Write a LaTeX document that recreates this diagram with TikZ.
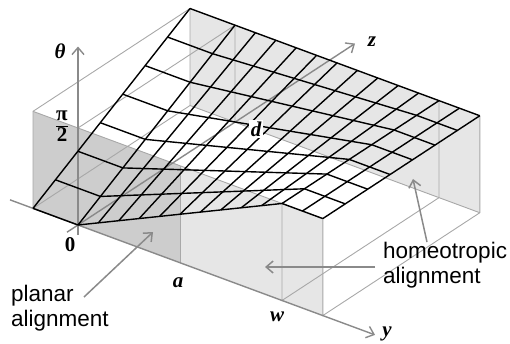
\documentclass[tikz,border=0pt]{standalone}
\usepackage{fontspec}
\setmainfont{Liberation Serif}
\newfontfamily\lbsans{Liberation Sans}
\usetikzlibrary{arrows.meta}
\definecolor{edgegray}{HTML}{A8A8A8}
\definecolor{axisgray}{HTML}{8A8A8A}
\definecolor{facedark}{HTML}{CDCDCD}
\definecolor{facelight}{HTML}{E6E6E6}
\begin{document}
\begin{tikzpicture}[x=1pt,y=-1pt,
  declare function={th(\u,\v)=1-(1-\v/157)*(1-min(max(\u/204,0),1));},
  gridline/.style={line width=1.4pt, black, line join=round},
  boxedge/.style={line width=0.9pt, edgegray},
  axisline/.style={line width=1.4pt, axisgray, -{Straight Barb[length=7pt,width=12pt]}},
  notearrow/.style={line width=1.5pt, axisgray, -{Straight Barb[length=7pt,width=12pt]}},
  lab/.style={font=\fontsize{21}{25}\selectfont\bfseries\itshape, inner sep=0pt},
  note/.style={font=\lbsans\fontsize{22.5}{25}\selectfont, align=left, inner sep=0pt, anchor=north west},
]
\useasboundingbox (0,0) rectangle (510,344);
\begin{scope}[shift={(78,225)}, x={(1pt,-0.37pt)}, y={(1pt,0.655pt)}, z={(0pt,97pt)}]
  % faces
  \fill[facelight] (-45,157,0) -- (244.8,157,0) -- (244.8,157,1) -- (-45,157,1) -- cycle;
  \fill[facedark] (-45,0,0) -- (102,0,0) -- (102,0,1) -- (-45,0,1) -- cycle;
  \fill[facelight] (102,0,0) -- (244.8,0,0) -- (244.8,0,1) -- (102,0,1) -- cycle;
  % box edges
  \draw[boxedge] (-45,0,0) -- (-45,0,1) -- (-45,157,1) -- (-45,157,0) -- cycle;
  \draw[boxedge] (-45,0,1) -- (244.8,0,1);
  \draw[boxedge] (0,0,1) -- (0,157,1) -- (0,157,0);
  \draw[boxedge] (102,0,0) -- (102,0,1);
  \draw[boxedge] (204,0,1) -- (204,0,0) -- (204,157,0) -- (204,157,1);
  \draw[boxedge] (244.8,0,1) -- (244.8,0,0) -- (244.8,157,0) -- (244.8,157,1);
  \draw[boxedge] (-45,157,0) -- (244.8,157,0);
  % axes
  \draw[axisline] (0,0,-0.1) -- (0,0,1.84);
  \draw[axisline] (-68,0,0) -- (297,0,0);
  \draw[axisline] (0,-11,0) -- (0,277,0);
  % surface grid
  \foreach \j in {0,...,7} {
    \pgfmathsetmacro\v{157*\j/7}
    \draw[gridline] (-45,\v,{\v/157}) -- (0,\v,{\v/157}) -- (204,\v,1) -- (244.8,\v,1);
  }
  \draw[gridline] (-45,0,0) -- (-45,157,1);
  \foreach \i in {0,...,12} {
    \pgfmathsetmacro\u{20.4*\i}
    \draw[gridline] (\u,0,{th(\u,0)}) -- (\u,157,1);
  }
\end{scope}
% labels
\node[lab] (thlab) at (60,51) {θ};
\node[inner sep=0pt, font=\fontsize{21}{26}\selectfont\bfseries] (pilab) at (62,127)
  {\renewcommand\arraystretch{0.75}\setlength\arrayrulewidth{1.2pt}\begin{tabular}{@{}c@{}}π\\\hline 2\end{tabular}};
\node[inner sep=0pt, font=\fontsize{21}{25}\selectfont\bfseries] (zero) at (70,245) {0};
\node[lab] (alab) at (178,283) {a};
\node[lab] (wlab) at (277,317) {w};
\node[lab] (ylab) at (387,334) {y};
\node[lab] (zlab) at (372,42) {z};
\node[lab, fill=white, inner sep=2pt] (dlab) at (256,129) {d};
\node[note] (planar) at (11,285) {planar\\alignment};
\node[note] (homeo) at (383,242) {homeotropic\\alignment};
\coordinate (planarTail) at (84,297);
\coordinate (planarHead) at (153,232);
\draw[notearrow] (planarTail) -- (planarHead);
\coordinate (homeoTailA) at (427,242);
\coordinate (homeoHeadA) at (413,179);
\draw[notearrow] (homeoTailA) -- (homeoHeadA);
\coordinate (homeoTailB) at (375,267);
\coordinate (homeoHeadB) at (265,267);
\draw[notearrow] (homeoTailB) -- (homeoHeadB);
\end{tikzpicture}
\end{document}
